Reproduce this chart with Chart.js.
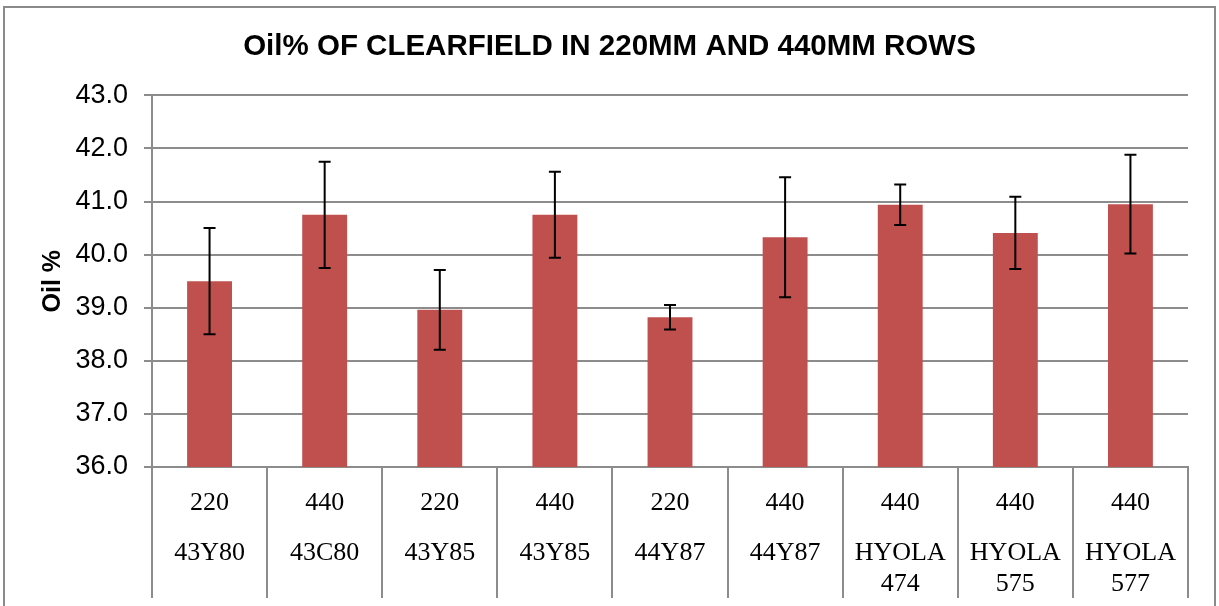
<!DOCTYPE html>
<html>
<head>
<meta charset="utf-8">
<script src="https://cdn.jsdelivr.net/npm/chart.js@4.4.1/dist/chart.umd.min.js"></script>
<style>
  body { margin: 0; background: #fff; overflow: hidden; }
  #wrap { position: relative; width: 1219px; height: 606px; }
  #frame { position: absolute; left: 3px; top: 6px; width: 1209px; height: 640px; border: 2px solid #8a8a8a; pointer-events: none; }
  canvas { position: absolute; left: 0; top: 0; }
</style>
</head>
<body>
<div id="wrap">
  <div id="frame"></div>
  <canvas id="oilChart" width="1219" height="606"></canvas>
</div>
<script>
// row spacing (mm) and variety for each bar
const rowSpacing = ["220", "440", "220", "440", "220", "440", "440", "440", "440"];
const varieties = [["43Y80"], ["43C80"], ["43Y85"], ["43Y85"], ["44Y87"], ["44Y87"], ["HYOLA", "474"], ["HYOLA", "575"], ["HYOLA", "577"]];
const oilPct = [39.50, 40.75, 38.96, 40.75, 38.82, 40.33, 40.94, 40.41, 40.95];
const oilErr = [1.00, 1.00, 0.75, 0.81, 0.23, 1.13, 0.38, 0.68, 0.93];

const gridGray = "#8c8c8c";

// draws the black error bars on top of each bar
const errorBars = {
    id: "errorBars",
    afterDatasetsDraw(chart) {
        const ctx = chart.ctx;
        const y = chart.scales.y;
        const bars = chart.getDatasetMeta(0).data;
        ctx.save();
        ctx.strokeStyle = "#000";
        ctx.lineWidth = 2;
        bars.forEach((bar, i) => {
            const top = y.getPixelForValue(oilPct[i] + oilErr[i]);
            const bot = y.getPixelForValue(oilPct[i] - oilErr[i]);
            ctx.beginPath();
            ctx.moveTo(bar.x, top);
            ctx.lineTo(bar.x, bot);
            ctx.moveTo(bar.x - 6, top);
            ctx.lineTo(bar.x + 6, top);
            ctx.moveTo(bar.x - 6, bot);
            ctx.lineTo(bar.x + 6, bot);
            ctx.stroke();
        });
        ctx.restore();
    }
};

const ctx = document.getElementById("oilChart").getContext("2d");
new Chart(ctx, {
    type: "bar",
    data: {
        labels: rowSpacing,
        datasets: [{
            label: "Oil %",
            data: oilPct,
            backgroundColor: "#C0504D",
            borderWidth: 0,
            categoryPercentage: 1,
            barPercentage: 0.39
        }]
    },
    options: {
        responsive: false,
        animation: false,
        layout: { padding: 0 },
        plugins: {
            legend: { display: false },
            tooltip: { enabled: false },
            title: {
                display: true,
                text: "Oil% OF CLEARFIELD IN 220MM AND 440MM ROWS",
                color: "#000",
                font: { family: "'Liberation Sans', Arial, sans-serif", size: 29.5, weight: "bold", lineHeight: 1.2 },
                padding: { top: 29, bottom: 31 }
            }
        },
        scales: {
            y: {
                min: 36,
                max: 43,
                ticks: {
                    stepSize: 1,
                    color: "#000",
                    padding: 16,
                    font: { family: "'Liberation Sans', Arial, sans-serif", size: 27 },
                    callback: (v) => Number(v).toFixed(1)
                },
                grid: { color: gridGray, lineWidth: 2, tickLength: 8 },
                border: { color: gridGray, width: 2 },
                title: {
                    display: true,
                    text: "Oil %",
                    color: "#000",
                    font: { family: "'Liberation Sans', Arial, sans-serif", size: 25, weight: "bold", lineHeight: 1.2 },
                    padding: { top: 38, bottom: 0 }
                },
                afterFit(scale) { scale.width = 152; }
            },
            // empty right axis, only keeps the right margin so the title stays centred on the page
            yRight: {
                type: "linear",
                position: "right",
                display: true,
                grid: { display: false, drawTicks: false },
                border: { display: false },
                ticks: { display: false },
                afterFit(scale) { scale.width = 31; }
            },
            x: {
                weight: 0,
                offset: true,
                grid: { display: true, drawOnChartArea: false, color: gridGray, lineWidth: 2, tickLength: 131, offset: true },
                border: { color: gridGray, width: 2 },
                ticks: {
                    color: "#000",
                    padding: -110,
                    maxRotation: 0,
                    autoSkip: false,
                    font: { family: "'Liberation Serif', 'Times New Roman', serif", size: 26, lineHeight: 1.2 }
                },
                afterFit(scale) { scale.height = 60; }
            },
            x2: {
                type: "category",
                position: "bottom",
                weight: 1,
                offset: true,
                labels: varieties,
                grid: { display: false, drawTicks: false },
                border: { display: false },
                ticks: {
                    color: "#000",
                    padding: 11,
                    maxRotation: 0,
                    autoSkip: false,
                    font: { family: "'Liberation Serif', 'Times New Roman', serif", size: 26, lineHeight: 1.19 }
                },
                afterFit(scale) { scale.height = 79; }
            }
        }
    },
    plugins: [errorBars]
});
</script>
</body>
</html>
